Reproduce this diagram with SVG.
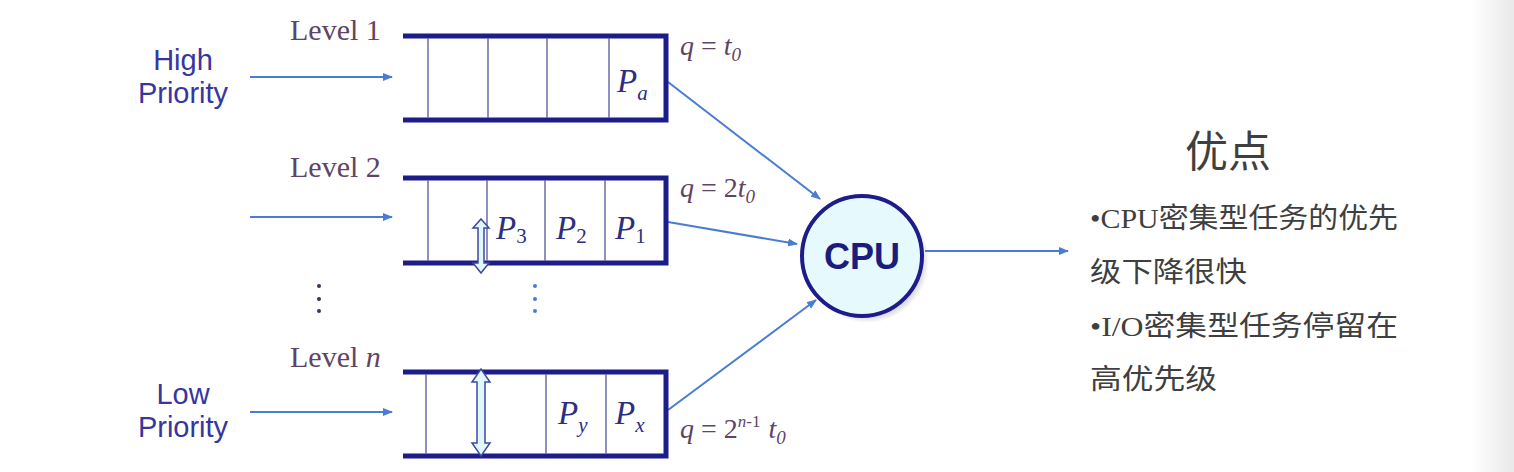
<svg xmlns="http://www.w3.org/2000/svg" width="1514" height="472" viewBox="0 0 1514 472">
<defs>
<marker id="ah" markerWidth="10" markerHeight="8" refX="9" refY="4" orient="auto" markerUnits="userSpaceOnUse">
<path d="M0,0 L10,4 L0,8 Z" fill="#4a7cd6"/>
</marker>
<linearGradient id="edge" x1="0" y1="0" x2="1" y2="0">
<stop offset="0" stop-color="#ffffff"/>
<stop offset="1" stop-color="#e9e9e9"/>
</linearGradient>
<radialGradient id="shadow" cx="0.5" cy="0.5" r="0.5">
<stop offset="0.8" stop-color="#888" stop-opacity="0.6"/>
<stop offset="1" stop-color="#888" stop-opacity="0"/>
</radialGradient>
</defs>
<style>
.bar{fill:none;stroke:#1c1c8a;stroke-width:5;stroke-linejoin:miter}
.div{stroke:#6b6ba8;stroke-width:1.5}
.lvl{font-family:"Liberation Serif",serif;font-size:30px;fill:#5e4466}
.pri{font-family:"Liberation Sans",sans-serif;font-size:29px;fill:#36369e;text-anchor:middle}
.q{font-family:"Liberation Serif",serif;font-size:28px;fill:#5e4466}
.i{font-style:italic}
.p{font-family:"Liberation Serif",serif;font-style:italic;font-size:33px;fill:#2e2e80}
.sub{font-size:21px}
.con{stroke:#4a7cd6;stroke-width:2;fill:none;marker-end:url(#ah)}
.dbl{fill:#e2f7fd;stroke:#3a4aa0;stroke-width:1.5}
.cjk{font-family:"Liberation Serif","Noto Sans CJK SC",sans-serif;font-size:28px;fill:#3f3f3f}
.cpu{font-family:"Liberation Sans",sans-serif;font-size:36px;font-weight:bold;fill:#1c1c7e;text-anchor:middle}
.title{font-family:"Noto Sans CJK SC",sans-serif;font-size:43px;fill:#3f3f3f;text-anchor:middle}
</style>
<rect x="0" y="0" width="1514" height="472" fill="#ffffff"/>
<rect x="1470" y="0" width="44" height="472" fill="url(#edge)"/>

<g id="connectors">
<line class="con" x1="250" y1="77" x2="392" y2="77"/>
<line class="con" x1="250" y1="217" x2="392" y2="217"/>
<line class="con" x1="250" y1="412" x2="392" y2="412"/>
<line class="con" x1="668" y1="82" x2="820" y2="199"/>
<line class="con" x1="668" y1="222" x2="797" y2="244"/>
<line class="con" x1="668" y1="410" x2="816" y2="300"/>
<line class="con" x1="925" y1="251" x2="1068" y2="251"/>
</g>

<g id="high-priority">
<text class="pri" x="183" y="70">High</text>
<text class="pri" x="183" y="103">Priority</text>
</g>
<g id="low-priority">
<text class="pri" x="183" y="404">Low</text>
<text class="pri" x="183" y="437">Priority</text>
</g>

<g id="queue-1">
<text class="lvl" x="290" y="40">Level 1</text>
<path class="bar" d="M403,36 H666 V120 H403"/>
<line class="div" x1="428" y1="38" x2="428" y2="118"/>
<line class="div" x1="488" y1="38" x2="488" y2="118"/>
<line class="div" x1="547" y1="38" x2="547" y2="118"/>
<line class="div" x1="609" y1="38" x2="609" y2="118"/>
<text class="p" x="617" y="92">P<tspan class="sub" dy="8">a</tspan></text>
<text class="q" x="680" y="55"><tspan class="i">q</tspan> = <tspan class="i">t</tspan><tspan class="i" font-size="19" dy="6">0</tspan></text>
</g>

<g id="queue-2">
<text class="lvl" x="290" y="177">Level 2</text>
<path class="bar" d="M403,178 H666 V263 H403"/>
<line class="div" x1="428" y1="180" x2="428" y2="261"/>
<line class="div" x1="487" y1="180" x2="487" y2="261"/>
<line class="div" x1="545" y1="180" x2="545" y2="261"/>
<line class="div" x1="605" y1="180" x2="605" y2="261"/>
<text class="p" x="496" y="239">P<tspan class="sub" font-style="normal" dy="4">3</tspan></text>
<text class="p" x="556" y="239">P<tspan class="sub" font-style="normal" dy="4">2</tspan></text>
<text class="p" x="615" y="239">P<tspan class="sub" font-style="normal" dy="4">1</tspan></text>
<text class="q" x="680" y="197"><tspan class="i">q</tspan> = 2<tspan class="i">t</tspan><tspan class="i" font-size="19" dy="6">0</tspan></text>
<path class="dbl" d="M481,219 L489,228 L484,228 L484,263 L489,263 L481,273 L473,263 L478,263 L478,228 L473,228 Z"/>
</g>

<g id="dots">
<circle cx="319" cy="286" r="2" fill="#4a2a5a"/>
<circle cx="319" cy="299" r="2" fill="#4a2a5a"/>
<circle cx="319" cy="311" r="2" fill="#4a2a5a"/>
<circle cx="535" cy="286" r="2" fill="#4a7cd6"/>
<circle cx="535" cy="299" r="2" fill="#4a7cd6"/>
<circle cx="535" cy="311" r="2" fill="#4a7cd6"/>
</g>

<g id="queue-n">
<text class="lvl" x="290" y="367">Level <tspan class="i">n</tspan></text>
<path class="bar" d="M403,372 H666 V456 H403"/>
<line class="div" x1="426" y1="374" x2="426" y2="454"/>
<line class="div" x1="546" y1="374" x2="546" y2="454"/>
<line class="div" x1="606" y1="374" x2="606" y2="454"/>
<text class="p" x="558" y="424">P<tspan class="sub" dy="8">y</tspan></text>
<text class="p" x="615" y="424">P<tspan class="sub" dy="8">x</tspan></text>
<text class="q" x="680" y="438"><tspan class="i">q</tspan> = 2<tspan font-size="17" dy="-11"><tspan class="i">n</tspan>-1</tspan><tspan class="i" dx="8" dy="11">t</tspan><tspan class="i" font-size="19" dy="6">0</tspan></text>
<path class="dbl" d="M481,369 L490,382 L485,382 L485,443 L490,443 L481,456 L472,443 L477,443 L477,382 L472,382 Z"/>
</g>

<g id="cpu">
<circle cx="867" cy="261" r="62" fill="url(#shadow)"/>
<circle cx="862" cy="256" r="60" fill="#e6f9fd" stroke="#1c1c8a" stroke-width="4"/>
<text class="cpu" x="862" y="269">CPU</text>
</g>

<g id="advantages">
<text class="title" x="1228" y="167">优点</text>
<text class="cjk" x="1090" y="228" textLength="308" lengthAdjust="spacingAndGlyphs">•CPU密集型任务的优先</text>
<text class="cjk" x="1090" y="282" textLength="157" lengthAdjust="spacingAndGlyphs">级下降很快</text>
<text class="cjk" x="1090" y="336" textLength="308" lengthAdjust="spacingAndGlyphs">•I/O密集型任务停留在</text>
<text class="cjk" x="1090" y="389" textLength="127" lengthAdjust="spacingAndGlyphs">高优先级</text>
</g>
</svg>
